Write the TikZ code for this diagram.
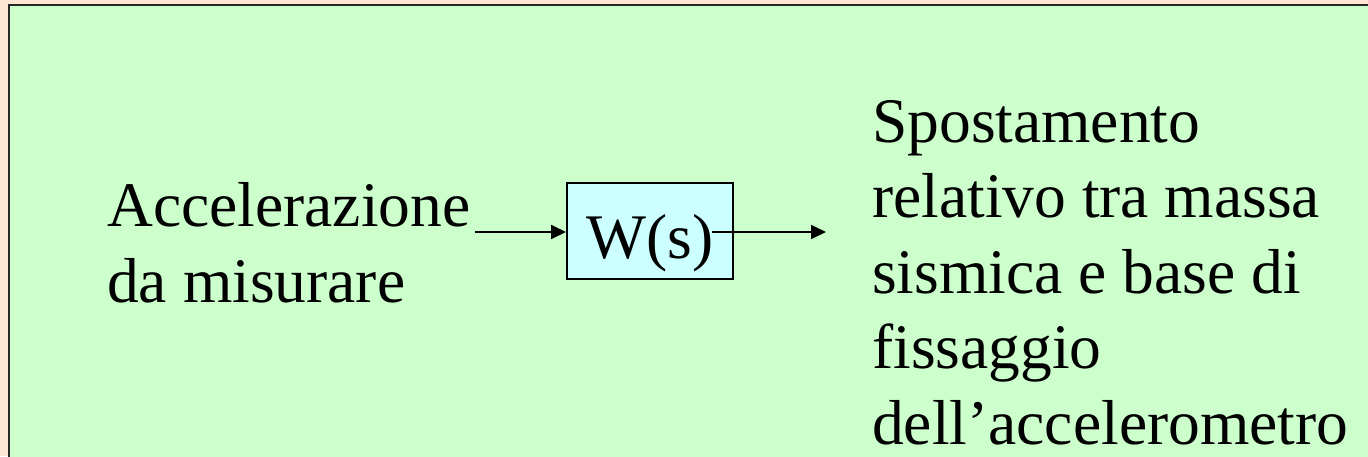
\documentclass[tikz,border=0pt]{standalone}
\usepackage{fontspec}
\setmainfont{Liberation Serif}
\usetikzlibrary{arrows.meta}
\definecolor{peach}{HTML}{FFE6D2}
\definecolor{slidegreen}{HTML}{CCFFCC}
\definecolor{boxcyan}{HTML}{CCFFFF}
\tikzset{
  bigtext/.style={font=\fontsize{63.5pt}{75.5pt}\selectfont, inner sep=0pt, align=left, anchor=base west},
  blockbox/.style={draw=black, line width=2pt, fill=boxcyan, inner sep=0pt,
    minimum width=166pt, minimum height=96pt, text height=54pt, text depth=0pt,
    font=\fontsize{63.5pt}{76pt}\selectfont},
  sigarrow/.style={line width=2pt, -{Triangle[length=15pt,width=14pt]}}
}
\begin{document}
\begin{tikzpicture}[x=1pt,y=-1pt]
\useasboundingbox (0,0) rectangle (1368,456);
\clip (0,0) rectangle (1368,456);
\fill[peach] (0,0) rectangle (1368,456);
\draw[fill=slidegreen, draw=black!85, line width=2.5pt] (9,5) rectangle (1400,480);
\node[bigtext] (inp) at (107,302) {Accelerazione\\da misurare};
\node[blockbox] (w) at (650,231) {W(s)};
\node[bigtext] (out) at (872,444) {Spostamento\\relativo tra massa\\sismica e base di\\fissaggio\\dell’accelerometro};
\coordinate (ain) at (475,232);
\coordinate (aout0) at (712,232);
\coordinate (aout1) at (826,232);
\draw[sigarrow] (ain) -- (ain -| w.west);
\draw[sigarrow] (aout0) -- (aout1);
\end{tikzpicture}
\end{document}
